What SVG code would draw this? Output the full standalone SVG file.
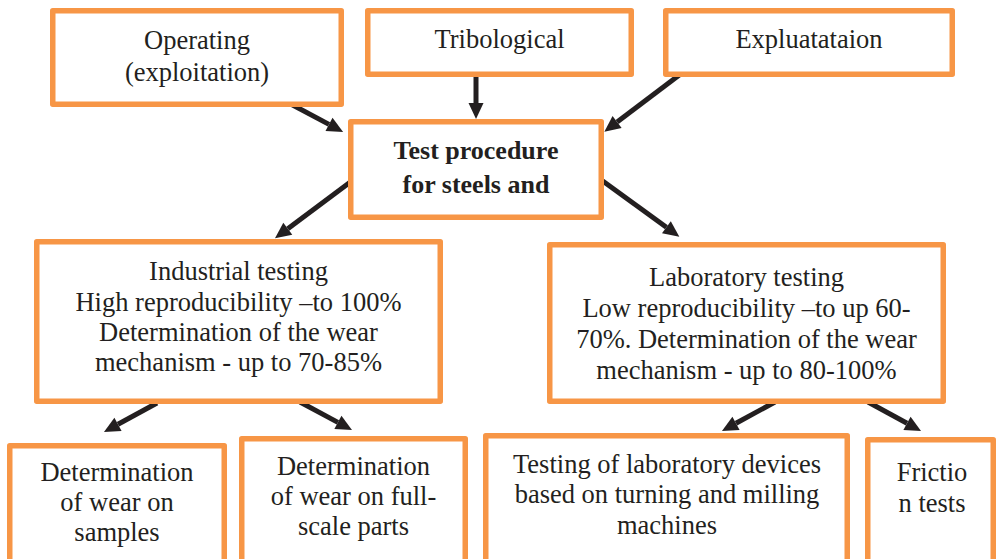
<svg xmlns="http://www.w3.org/2000/svg" width="996" height="559" viewBox="0 0 996 559">
<style>
.box{fill:#ffffff;stroke:#F79646;stroke-width:5.5;stroke-linejoin:round}
.t{font-family:"Liberation Serif","Times New Roman",serif;font-size:26.5px;fill:#231F20;text-anchor:middle}
.b{font-weight:bold;font-size:26px}
.arr{stroke:#231F20;stroke-width:5;fill:none;marker-end:url(#ah)}
</style>
<defs>
<marker id="ah" markerUnits="userSpaceOnUse" markerWidth="17" markerHeight="16" refX="0" refY="7.5" orient="auto" overflow="visible">
<path d="M0,0 L16,7.5 L0,15 z" fill="#231F20"/>
</marker>
</defs>
<rect width="996" height="559" fill="#ffffff"/>
<g id="connectors">
<line class="arr" x1="289.3" y1="103.3" x2="329" y2="124.4"/>
<line class="arr" x1="476" y1="75" x2="476" y2="103"/>
<line class="arr" x1="679.3" y1="75" x2="617.1" y2="122.1"/>
<line class="arr" x1="350.7" y1="181.7" x2="287.8" y2="228.7"/>
<line class="arr" x1="602.7" y1="181" x2="666.4" y2="227.3"/>
<line class="arr" x1="157" y1="403" x2="118" y2="424.3"/>
<line class="arr" x1="300" y1="402" x2="337.9" y2="422.4"/>
<line class="arr" x1="775" y1="402" x2="736" y2="423.3"/>
<line class="arr" x1="868" y1="402" x2="907" y2="423.3"/>
</g>
<g id="operating">
<rect class="box" x="52.75" y="10.75" width="288.5" height="93.5"/>
<text class="t" x="197" y="49">Operating</text>
<text class="t" x="197" y="81">(exploitation)</text>
</g>
<g id="tribological">
<rect class="box" x="367.75" y="10.75" width="263.5" height="63.5"/>
<text class="t" x="499.5" y="48">Tribological</text>
</g>
<g id="expluatataion">
<rect class="box" x="665.75" y="10.75" width="286.5" height="63.5"/>
<text class="t" x="809" y="48">Expluatataion</text>
</g>
<g id="test-procedure">
<rect class="box" x="350.75" y="121.75" width="250.5" height="95.5"/>
<text class="t b" x="476" y="159">Test procedure</text>
<text class="t b" x="476" y="193">for steels and</text>
</g>
<g id="industrial">
<rect class="box" x="36.75" y="241.75" width="403.5" height="159.5"/>
<text class="t" x="238.5" y="280">Industrial testing</text>
<text class="t" x="238.5" y="310.5">High reproducibility –to 100%</text>
<text class="t" x="238.5" y="341">Determination of the wear</text>
<text class="t" x="238.5" y="371">mechanism - up to 70-85%</text>
</g>
<g id="laboratory">
<rect class="box" x="549.75" y="244.75" width="393.5" height="156.5"/>
<text class="t" x="746.5" y="286">Laboratory testing</text>
<text class="t" x="746.5" y="317">Low reproducibility –to up 60-</text>
<text class="t" x="746.5" y="348">70%. Determination of the wear</text>
<text class="t" x="746.5" y="379">mechanism - up to 80-100%</text>
</g>
<g id="samples">
<rect class="box" x="9.75" y="445.75" width="214.5" height="130"/>
<text class="t" x="117" y="481">Determination</text>
<text class="t" x="117" y="511">of wear on</text>
<text class="t" x="117" y="541">samples</text>
</g>
<g id="full-scale">
<rect class="box" x="241.75" y="438.75" width="223.5" height="130"/>
<text class="t" x="353.5" y="474.5">Determination</text>
<text class="t" x="353.5" y="504.5">of wear on full-</text>
<text class="t" x="353.5" y="535">scale parts</text>
</g>
<g id="lab-devices">
<rect class="box" x="485.75" y="435.75" width="361.5" height="130"/>
<text class="t" x="667" y="472.5">Testing of laboratory devices</text>
<text class="t" x="667" y="503">based on turning and milling</text>
<text class="t" x="667" y="534">machines</text>
</g>
<g id="friction">
<rect class="box" x="867.75" y="439.75" width="125.5" height="130"/>
<text class="t" x="932" y="481">Frictio</text>
<text class="t" x="932" y="511.5">n tests</text>
</g>
</svg>
